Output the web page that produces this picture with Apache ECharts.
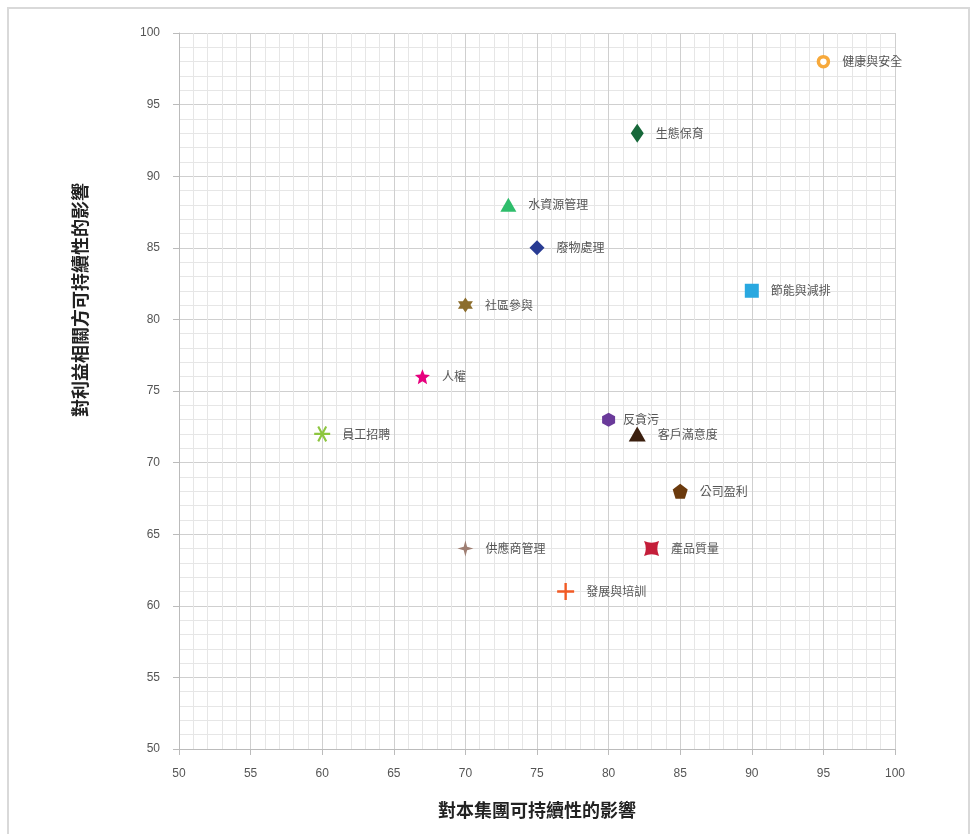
<!DOCTYPE html>
<html><head><meta charset="utf-8">
<script src="https://cdn.jsdelivr.net/npm/echarts@6/dist/echarts.min.js"></script>
<style>html,body{margin:0;padding:0;background:#fff;}#c{width:974px;height:834px;}</style>
</head><body><div id="c"></div>
<script>
const topics = ['健康與安全','生態保育','水資源管理','廢物處理','節能與減排','社區參與','人權','員工招聘','反貪污','客戶滿意度','公司盈利','供應商管理','產品質量','發展與培訓'];
const groupImpact = [95, 82, 73, 75, 90, 70, 67, 60, 80, 82, 85, 70, 83, 77];
const stakeholderImpact = [98, 93, 88, 85, 82, 81, 76, 72, 73, 72, 68, 64, 64, 61];
const xTicks = [50, 100, 5];
const yTicks = [50, 100, 5];
const xAxisTitle = '對本集團可持續性的影響';
const yAxisTitle = '對利益相關方可持續性的影響';

const colors = ['#F7A93B','#17683A','#2EBD6B','#283B93','#29A8E0','#8C6D2C','#E6007E','#8DC63F','#6A3A9A','#3B1F0E','#6B3A0D','#9E7E72','#C41E3A','#F15A24'];
function poly(pts){return 'path://M'+pts.map(p=>p[0].toFixed(3)+','+p[1].toFixed(3)).join(' L')+' Z';}
function star(n, r1, r2){const p=[];for(let i=0;i<2*n;i++){const a=-Math.PI/2+i*Math.PI/n;const r=i%2?r2:r1;p.push([r*Math.cos(a),r*Math.sin(a)]);}return poly(p);}
function reg(n){const p=[];for(let i=0;i<n;i++){const a=-Math.PI/2+i*2*Math.PI/n;p.push([Math.cos(a),Math.sin(a)]);}return poly(p);}
function bars(angles,w){let s='path://';angles.forEach(a=>{const c=Math.cos(a),si=Math.sin(a);const pts=[[-1,-w],[1,-w],[1,w],[-1,w]].map(([x,y])=>[x*c-y*si,x*si+y*c]);s+='M'+pts.map(p=>p[0].toFixed(3)+','+p[1].toFixed(3)).join(' L')+' Z ';});return s;}
const symbols = [
  'circle','diamond','triangle','diamond','rect',
  star(6,1,0.58), star(5,1,0.45),
  bars([0,Math.PI/3,2*Math.PI/3],0.13),
  'path://M0,-1 L0.866,-0.5 L0.866,0.5 L0,1 L-0.866,0.5 L-0.866,-0.5 Z',
  'triangle', reg(5), star(4,1,0.3),
  'path://M-1,-1 Q0,-0.55 1,-1 Q0.55,0 1,1 Q0,0.55 -1,1 Q-0.55,0 -1,-1 Z',
  bars([0,Math.PI/2],0.14)
];
const sizes = [[10,10],[13,19],[16,14],[15,15],[14,14],[15,15],[15,15],[16,16],[13,14],[17,15],[15,15],[16,16],[15,15],[17,17]];

const series = topics.map((t,i)=>({
  type:'scatter', name:t,
  symbol:symbols[i], symbolSize:sizes[i],
  data:[[groupImpact[i], stakeholderImpact[i]]],
  itemStyle: i===0 ? {color:'#fff', borderColor:colors[i], borderWidth:3.5, opacity:1} : {color:colors[i], opacity:1},
  label:{show:true, position:'right', distance:i===8?8:12, formatter:t, color:'#555', fontSize:12, fontFamily:'"Noto Sans CJK TC", sans-serif'},
  emphasis:{disabled:true}
}));

const titleFont = {fontSize:18, fontWeight:'bold', color:'#222', fontFamily:'"Noto Sans CJK TC", sans-serif'};
const chart = echarts.init(document.getElementById('c'));
chart.setOption({
  animation:false,
  backgroundColor:'#fff',
  graphic:[
    {type:'rect', shape:{x:8,y:8,width:961,height:840}, style:{fill:'none', stroke:'#d9d9d9', lineWidth:2}, silent:true},
    {type:'text', x:80, y:300, rotation:Math.PI/2, style:{text:yAxisTitle, align:'center', verticalAlign:'middle', fill:titleFont.color, font:'bold 18px "Noto Sans CJK TC", sans-serif'}, silent:true}
  ],
  grid:{left:179, right:79, top:33, bottom:85},
  xAxis:{type:'value', min:xTicks[0], max:xTicks[1], interval:xTicks[2],
    name:xAxisTitle, nameLocation:'middle', nameGap:52,
    nameTextStyle:titleFont,
    axisLine:{show:true, lineStyle:{color:'#bbb'}}, axisTick:{show:true, length:6, lineStyle:{color:'#bbb'}},
    axisLabel:{color:'#555', fontSize:12, margin:19},
    splitLine:{show:true, lineStyle:{color:'#cfcfcf', width:1}},
    minorTick:{show:false, splitNumber:5},
    minorSplitLine:{show:true, lineStyle:{color:'#e6e6e6', width:1}}},
  yAxis:{type:'value', min:yTicks[0], max:yTicks[1], interval:yTicks[2],
    axisLine:{show:true, lineStyle:{color:'#bbb'}}, axisTick:{show:true, length:6, lineStyle:{color:'#bbb'}},
    axisLabel:{color:'#555', fontSize:12, margin:19},
    splitLine:{show:true, lineStyle:{color:'#cfcfcf', width:1}},
    minorTick:{show:false, splitNumber:5},
    minorSplitLine:{show:true, lineStyle:{color:'#e6e6e6', width:1}}},
  series:series
});
</script></body></html>
